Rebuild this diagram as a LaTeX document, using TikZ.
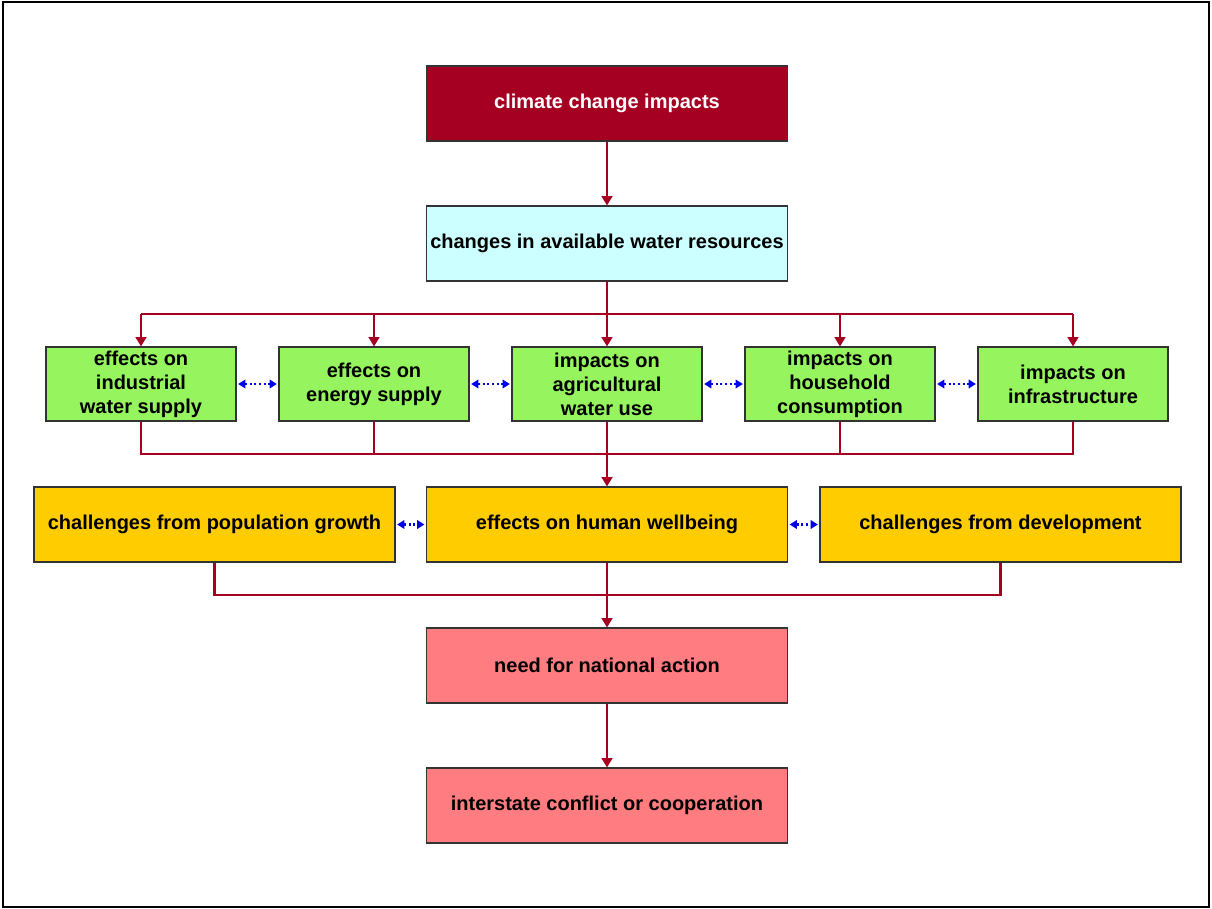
\documentclass[tikz,border=0pt]{standalone}
\usepackage{fontspec}
\setmainfont{Liberation Sans}
\usetikzlibrary{arrows.meta}
\definecolor{cdark}{RGB}{165,0,33}
\definecolor{ccyan}{RGB}{204,255,255}
\definecolor{cgreen}{RGB}{150,245,95}
\definecolor{cyellow}{RGB}{255,204,0}
\definecolor{cpink}{RGB}{255,124,128}
\definecolor{cblue}{RGB}{0,0,235}
\tikzset{
  box/.style={draw=black!80, line width=0.8pt, inner sep=0pt, align=center,
    font=\bfseries\fontsize{15}{18}\selectfont, minimum height=75*0.75pt},
  widebox/.style={box, minimum width=361*0.75pt},
  greenbox/.style={box, fill=cgreen, minimum width=190*0.75pt, minimum height=74*0.75pt},
  redline/.style={draw=cdark, line width=1.6pt},
  redarrow/.style={redline, -{Triangle[width=8pt,length=7pt]}},
  bluearrow/.style={draw=cblue, line width=1.8pt, dash pattern=on 1.5pt off 2pt,
    {Triangle[width=6.5pt,length=5.5pt]}-{Triangle[width=6.5pt,length=5.5pt]}, shorten <=1.2pt, shorten >=1.2pt}
}
\begin{document}
\begin{tikzpicture}[x=0.75pt,y=-0.75pt]
\useasboundingbox (0,0) rectangle (1212,909);
\draw[line width=2.2pt] (3,2) rectangle (1209,907);

\node[widebox, fill=cdark, text=white] (top) at (607,103.5) {climate change impacts};
\node[widebox, fill=ccyan] (chg) at (607,243.5) {changes in available water resources};

\node[greenbox] (g1) at (141,384) {effects on\\industrial\\water supply};
\node[greenbox] (g2) at (374,384) {effects on\\energy supply};
\node[greenbox] (g3) at (607,384) {impacts on\\agricultural\\water use};
\node[greenbox] (g4) at (840,384) {impacts on\\household\\consumption};
\node[greenbox] (g5) at (1073,384) {impacts on\\infrastructure};

\node[widebox, fill=cyellow] (y1) at (214.5,524.5) {challenges from population growth};
\node[widebox, fill=cyellow] (y2) at (607,524.5) {effects on human wellbeing};
\node[widebox, fill=cyellow] (y3) at (1000.5,524.5) {challenges from development};

\node[widebox, fill=cpink] (nat) at (607,665.5) {need for national action};
\node[widebox, fill=cpink] (inter) at (607,805.5) {interstate conflict or cooperation};

\coordinate (busT) at (607,314);
\coordinate (busB) at (607,454);
\coordinate (busY) at (607,595);

\draw[redarrow] (top) -- (chg);
\draw[redline] (chg.south) -- (busT);
\draw[redline] (g1.north |- busT) -- (g5.north |- busT);
\foreach \g in {g1,g2,g3,g4,g5}{
  \draw[redarrow] (\g.north |- busT) -- (\g.north);
}
\draw[redline] (g1.south) -- (g1.south |- busB) -- (g5.south |- busB) -- (g5.south);
\draw[redline] (g2.south) -- (g2.south |- busB);
\draw[redline] (g4.south) -- (g4.south |- busB);
\draw[redarrow] (g3.south) -- (y2.north);

\draw[redline] (y1.south) -- (y1.south |- busY) -- (y3.south |- busY) -- (y3.south);
\draw[redarrow] (y2.south) -- (nat.north);
\draw[redarrow] (nat.south) -- (inter.north);

\draw[bluearrow] (g1.east) -- (g2.west);
\draw[bluearrow] (g2.east) -- (g3.west);
\draw[bluearrow] (g3.east) -- (g4.west);
\draw[bluearrow] (g4.east) -- (g5.west);
\draw[bluearrow] (y1.east) -- (y2.west);
\draw[bluearrow] (y2.east) -- (y3.west);
\end{tikzpicture}
\end{document}
